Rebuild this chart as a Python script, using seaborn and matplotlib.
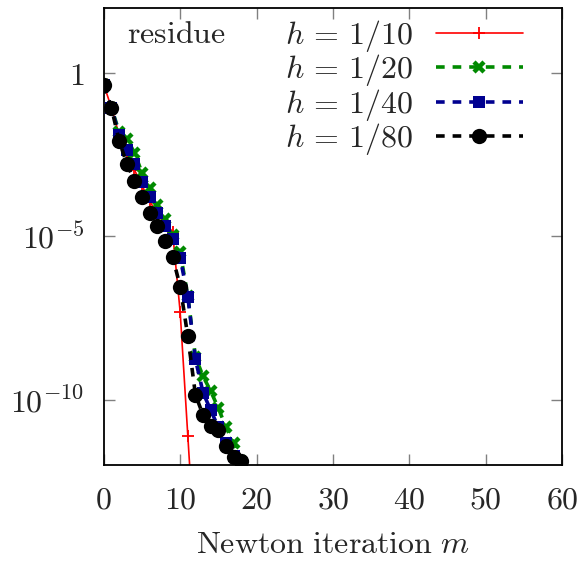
import numpy as np
import pandas as pd
import matplotlib
matplotlib.use("Agg")
import matplotlib.pyplot as plt
import seaborn as sns

# residue per Newton iteration, one list per mesh size
iters_10 = list(range(0, 13))
res_10 = [4.4e-1, 8.7e-2, 1.3e-2, 3.7e-3, 1.1e-3, 3.6e-4, 1.2e-4, 5.0e-5,
          2.5e-5, 1.4e-5, 4.7e-8, 7.6e-12, 1.3e-15]

iters_20 = list(range(0, 19))
res_20 = [4.4e-1, 8.7e-2, 1.6e-2, 9.8e-3, 3.7e-3, 8.9e-4, 3.1e-4, 9.4e-5,
          3.5e-5, 1.1e-5, 3.2e-6, 1.5e-7, 2.0e-9, 5.1e-10, 1.8e-10, 5.4e-11,
          1.4e-11, 4.6e-12, 1.3e-12]

iters_40 = list(range(0, 18))
res_40 = [4.4e-1, 8.7e-2, 1.3e-2, 4.5e-3, 1.6e-3, 4.7e-4, 1.6e-4, 5.3e-5,
          2.0e-5, 8.0e-6, 2.2e-6, 1.4e-7, 1.7e-9, 1.6e-10, 4.7e-11, 1.4e-11,
          4.6e-12, 1.9e-12]

iters_80 = list(range(0, 19))
res_80 = [4.4e-1, 8.7e-2, 8.5e-3, 1.7e-3, 5.1e-4, 1.6e-4, 5.3e-5, 2.0e-5,
          7.4e-6, 2.4e-6, 2.9e-7, 8.6e-9, 1.4e-10, 3.3e-11, 1.5e-11, 1.2e-11,
          3.7e-12, 1.7e-12, 1.3e-12]

labels = [r"$h\,=\,1/10$", r"$h\,=\,1/20$", r"$h\,=\,1/40$", r"$h\,=\,1/80$"]
xticks = [0, 10, 20, 30, 40, 50, 60]
yticks = [1, 1e-5, 1e-10]
ytick_labels = ["$1$", "$10^{-5}$", "$10^{-10}$"]

sns.set_style("ticks")
plt.rcParams['font.family'] = ['DejaVu Serif']
plt.rcParams['mathtext.fontset'] = 'cm'
FS = 23

fig = plt.figure(figsize=(5.8, 5.62), dpi=100)
ax = fig.add_axes([0.179, 0.173, 0.79, 0.813])

dash = (0, (2.4, 2.2))
series = [
    (iters_10, res_10, labels[0], dict(color='#ff0000', lw=1.2, linestyle='-',
                                       marker='+', markersize=9, mew=1.3, mec='#ff0000')),
    (iters_20, res_20, labels[1], dict(color='#008a00', lw=2.6, linestyle=dash,
                                       marker='x', markersize=7.5, mew=3.2, mec='#008a00')),
    (iters_40, res_40, labels[2], dict(color='#000090', lw=2.6, linestyle=dash,
                                       marker='s', markersize=8.5, mew=0, mec='#000090')),
    (iters_80, res_80, labels[3], dict(color='#000000', lw=2.6, linestyle=dash,
                                       marker='o', markersize=11, mew=0, mec='#000000')),
]

for xs, ys, lab, style in series:
    df = pd.DataFrame({'m': xs, 'residue': ys})
    sns.lineplot(data=df, x='m', y='residue', ax=ax, label=lab, **style)

ax.set_yscale('log')
ax.set_xlim(0, 60)
ax.set_ylim(1e-12, 1e2)
ax.set_xticks(xticks)
ax.set_xticklabels([f"${v}$" for v in xticks])
ax.set_yticks(yticks)
ax.set_yticklabels(ytick_labels)
ax.yaxis.set_minor_locator(matplotlib.ticker.NullLocator())
ax.tick_params(axis='both', which='major', direction='in', length=8, width=1,
               color='#808080', top=True, right=True, labelsize=FS)
ax.tick_params(axis='x', pad=14)
ax.tick_params(axis='y', pad=14)
for sp in ax.spines.values():
    sp.set_linewidth(1.3)
    sp.set_color('black')

ax.set_xlabel(r"$\mathrm{Newton\ iteration}\ m$", fontsize=FS, labelpad=10)
ax.set_ylabel("")

ax.text(0.05, 0.941, r"$\mathrm{residue}$", transform=ax.transAxes,
        fontsize=FS, ha='left', va='center')

leg = ax.legend(loc='upper right', frameon=False, markerfirst=False,
                handlelength=2.72, numpoints=1, fontsize=FS,
                labelspacing=-0.05, borderaxespad=0.0, handletextpad=0.69,
                bbox_to_anchor=(0.942, 1.006))

fig.savefig("out.png", dpi=100)
